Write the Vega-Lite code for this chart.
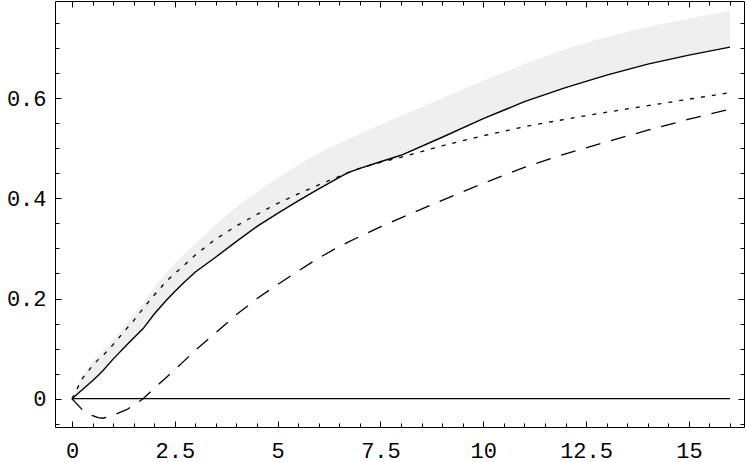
{
  "$schema": "https://vega.github.io/schema/vega-lite/v6.json",
  "width": 689,
  "height": 426,
  "autosize": {"type": "none"},
  "padding": {"left": 55, "top": 1, "right": 3, "bottom": 35},
  "background": "white",
  "data": {
    "values": [
      {"x": 0, "solid": 0, "dotted": 0, "dashed": 0, "upper": 0},
      {"x": 0.25, "solid": 0.018, "dotted": 0.04, "dashed": -0.022, "upper": 0.045},
      {"x": 0.5, "solid": 0.036, "dotted": 0.066, "dashed": -0.034, "upper": 0.073},
      {"x": 0.64, "solid": 0.047, "dotted": 0.078, "dashed": -0.038, "upper": 0.086},
      {"x": 0.75, "solid": 0.056, "dotted": 0.086, "dashed": -0.039, "upper": 0.095},
      {"x": 1, "solid": 0.079, "dotted": 0.108, "dashed": -0.033, "upper": 0.118},
      {"x": 1.33, "solid": 0.107, "dotted": 0.14, "dashed": -0.022, "upper": 0.15},
      {"x": 1.5, "solid": 0.121, "dotted": 0.156, "dashed": -0.013, "upper": 0.167},
      {"x": 1.73, "solid": 0.14, "dotted": 0.18, "dashed": 0, "upper": 0.19},
      {"x": 2, "solid": 0.169, "dotted": 0.207, "dashed": 0.021, "upper": 0.222},
      {"x": 2.3, "solid": 0.197, "dotted": 0.235, "dashed": 0.043, "upper": 0.252},
      {"x": 2.5, "solid": 0.214, "dotted": 0.25, "dashed": 0.058, "upper": 0.27},
      {"x": 2.71, "solid": 0.231, "dotted": 0.265, "dashed": 0.074, "upper": 0.287},
      {"x": 3, "solid": 0.253, "dotted": 0.287, "dashed": 0.097, "upper": 0.31},
      {"x": 3.5, "solid": 0.283, "dotted": 0.319, "dashed": 0.132, "upper": 0.348},
      {"x": 4, "solid": 0.314, "dotted": 0.345, "dashed": 0.168, "upper": 0.383},
      {"x": 4.5, "solid": 0.344, "dotted": 0.368, "dashed": 0.2, "upper": 0.413},
      {"x": 5, "solid": 0.37, "dotted": 0.39, "dashed": 0.228, "upper": 0.441},
      {"x": 5.5, "solid": 0.395, "dotted": 0.409, "dashed": 0.255, "upper": 0.467},
      {"x": 6, "solid": 0.419, "dotted": 0.427, "dashed": 0.281, "upper": 0.491},
      {"x": 6.5, "solid": 0.442, "dotted": 0.444, "dashed": 0.304, "upper": 0.511},
      {"x": 6.7, "solid": 0.451, "dotted": 0.451, "dashed": 0.312, "upper": 0.518},
      {"x": 7, "solid": 0.46, "dotted": 0.46, "dashed": 0.324, "upper": 0.528},
      {"x": 7.5, "solid": 0.473, "dotted": 0.472, "dashed": 0.343, "upper": 0.547},
      {"x": 8, "solid": 0.486, "dotted": 0.482, "dashed": 0.361, "upper": 0.565},
      {"x": 9, "solid": 0.522, "dotted": 0.505, "dashed": 0.396, "upper": 0.6},
      {"x": 10, "solid": 0.559, "dotted": 0.525, "dashed": 0.43, "upper": 0.635},
      {"x": 11, "solid": 0.593, "dotted": 0.543, "dashed": 0.462, "upper": 0.668},
      {"x": 12, "solid": 0.621, "dotted": 0.558, "dashed": 0.489, "upper": 0.698},
      {"x": 13, "solid": 0.646, "dotted": 0.572, "dashed": 0.513, "upper": 0.722},
      {"x": 14, "solid": 0.668, "dotted": 0.585, "dashed": 0.536, "upper": 0.742},
      {"x": 15, "solid": 0.686, "dotted": 0.598, "dashed": 0.558, "upper": 0.759},
      {"x": 16, "solid": 0.702, "dotted": 0.611, "dashed": 0.578, "upper": 0.774}
    ]
  },
  "resolve": {"axis": {"x": "independent", "y": "independent"}},
  "layer": [
    {
      "mark": {"type": "area", "color": "#efefef"},
      "encoding": {
        "x": {
          "field": "x", "type": "quantitative",
          "scale": {"domain": [-0.413, 16.34], "nice": false, "zero": false},
          "axis": {"orient": "bottom", "values": [0, 2.5, 5, 7.5, 10, 12.5, 15], "format": ".1~f", "ticks": false, "labelPadding": 13}
        },
        "y": {
          "field": "solid", "type": "quantitative",
          "scale": {"domain": [-0.0565, 0.794], "nice": false, "zero": false},
          "axis": {"orient": "left", "values": [0, 0.2, 0.4, 0.6], "format": ".1~f", "ticks": false, "labelPadding": 9}
        },
        "y2": {"field": "upper"}
      }
    },
    {
      "mark": {"type": "line", "color": "black", "strokeWidth": 1.3},
      "encoding": {
        "x": {"field": "x", "type": "quantitative",
          "axis": {"orient": "bottom", "values": [0, 2.5, 5, 7.5, 10, 12.5, 15], "labels": false, "tickSize": -6}},
        "y": {"datum": 0, "type": "quantitative",
          "axis": {"orient": "left", "values": [0, 0.2, 0.4, 0.6], "labels": false, "tickSize": -6}}
      }
    },
    {
      "mark": {"type": "line", "color": "black", "strokeWidth": 1.3, "strokeDash": [15, 11]},
      "encoding": {
        "x": {"field": "x", "type": "quantitative",
          "axis": {"orient": "bottom", "values": [0, 0.5, 1, 1.5, 2, 2.5, 3, 3.5, 4, 4.5, 5, 5.5, 6, 6.5, 7, 7.5, 8, 8.5, 9, 9.5, 10, 10.5, 11, 11.5, 12, 12.5, 13, 13.5, 14, 14.5, 15, 15.5, 16], "labels": false, "tickSize": -4}},
        "y": {"field": "dashed", "type": "quantitative",
          "axis": {"orient": "left", "values": [-0.05, 0, 0.05, 0.1, 0.15, 0.2, 0.25, 0.3, 0.35, 0.4, 0.45, 0.5, 0.55, 0.6, 0.65, 0.7, 0.75], "labels": false, "tickSize": -4}}
      }
    },
    {
      "mark": {"type": "line", "color": "black", "strokeWidth": 1.3, "strokeDash": [4, 7]},
      "encoding": {
        "x": {"field": "x", "type": "quantitative",
          "axis": {"orient": "top", "values": [0, 2.5, 5, 7.5, 10, 12.5, 15], "labels": false, "tickSize": -6}},
        "y": {"field": "dotted", "type": "quantitative",
          "axis": {"orient": "right", "values": [0, 0.2, 0.4, 0.6], "labels": false, "tickSize": -6}}
      }
    },
    {
      "mark": {"type": "line", "color": "black", "strokeWidth": 1.4},
      "encoding": {
        "x": {"field": "x", "type": "quantitative",
          "axis": {"orient": "top", "values": [0, 0.5, 1, 1.5, 2, 2.5, 3, 3.5, 4, 4.5, 5, 5.5, 6, 6.5, 7, 7.5, 8, 8.5, 9, 9.5, 10, 10.5, 11, 11.5, 12, 12.5, 13, 13.5, 14, 14.5, 15, 15.5, 16], "labels": false, "tickSize": -4}},
        "y": {"field": "solid", "type": "quantitative",
          "axis": {"orient": "right", "values": [-0.05, 0, 0.05, 0.1, 0.15, 0.2, 0.25, 0.3, 0.35, 0.4, 0.45, 0.5, 0.55, 0.6, 0.65, 0.7, 0.75], "labels": false, "tickSize": -4}}
      }
    }
  ],
  "config": {
    "view": {"stroke": "black", "strokeWidth": 1},
    "axis": {
      "title": null,
      "grid": false,
      "domain": false,
      "tickColor": "black",
      "tickWidth": 1,
      "labelFont": "Liberation Mono",
      "labelFontSize": 22,
      "labelColor": "black"
    }
  }
}
